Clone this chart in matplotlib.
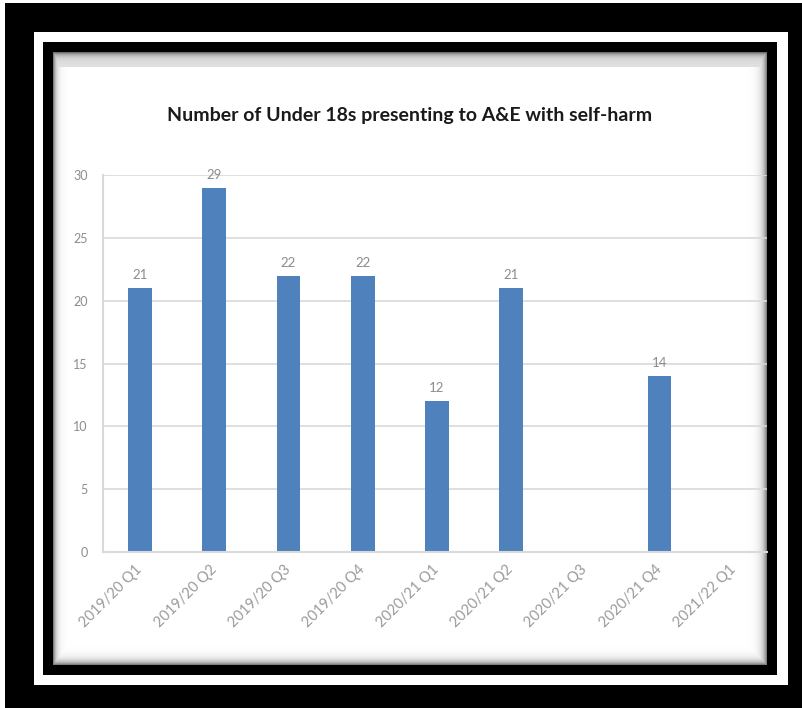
import matplotlib.pyplot as plt
import numpy as np
from matplotlib.patches import Rectangle

plt.rcParams['font.family'] = ['Lato', 'DejaVu Sans']

quarters = ['2019/20 Q1', '2019/20 Q2', '2019/20 Q3', '2019/20 Q4',
            '2020/21 Q1', '2020/21 Q2', '2020/21 Q3', '2020/21 Q4',
            '2021/22 Q1']
# no figure reported for 2020/21 Q3 and 2021/22 Q1
cases = [21, 29, 22, 22, 12, 21, None, 14, None]
title = 'Number of Under 18s presenting to A&E with self-harm'

W, H = 803, 708
fig = plt.figure(figsize=(W / 100, H / 100), dpi=100)


def px_rect(x0, y0, x1, y1, color):
    """Figure-level rectangle given in pixel coords (origin top-left)."""
    fig.patches.append(Rectangle((x0 / W, 1 - y1 / H), (x1 - x0) / W, (y1 - y0) / H,
                                 transform=fig.transFigure, facecolor=color,
                                 edgecolor='none', zorder=0))


# black / white / black frame
px_rect(5, 3, 803, 708, 'black')
px_rect(34, 32, 788, 685, 'white')
px_rect(43, 42, 777, 675, 'black')

# chart panel with soft inner shadow on the edges
cx0, cy0, cx1, cy1 = 53, 52, 767, 665
bg = fig.add_axes([cx0 / W, 1 - cy1 / H, (cx1 - cx0) / W, (cy1 - cy0) / H])
bg.set_zorder(1)
yy, xx = np.mgrid[0:cy1 - cy0, 0:cx1 - cx0].astype(float)
top = 0.45 * np.exp(-yy / 3.0) + 0.12 * (yy < 15)
left = 0.5 * np.exp(-xx / 3.0)
right = 0.5 * np.exp(-(cx1 - cx0 - 1 - xx) / 4.0)
bottom = 0.5 * np.exp(-(cy1 - cy0 - 1 - yy) / 4.0)
dark = np.maximum.reduce([top, left, right, bottom])
bg.imshow(1 - dark, cmap='gray', vmin=0, vmax=1, aspect='auto',
          interpolation='bilinear')
bg.axis('off')

fig.text(410 / W, 1 - 115 / H, title, ha='center', va='center', zorder=5,
         fontsize=14, fontweight='bold', color='#1a1a1a')

ax = fig.add_axes([103 / W, 1 - 552 / H, (767 - 103) / W, (552 - 175) / H])
ax.set_zorder(2)
ax.set_facecolor('none')

x = np.arange(len(quarters))
xs = [i for i, v in zip(x, cases) if v is not None]
vals = [v for v in cases if v is not None]
rects = ax.bar(xs, vals, width=0.32, color='#4f81bd', zorder=2)

for rect in rects:
    ax.annotate('{}'.format(int(rect.get_height())),
                xy=(rect.get_x() + rect.get_width() / 2, rect.get_height()),
                xytext=(0, 5), textcoords='offset points',
                ha='center', va='bottom', fontsize=9.5, color='#8c8c8c')

ax.set_xlim(-0.5, 8.45)
ax.set_ylim(0, 30)
ax.set_yticks(range(0, 31, 5))
ax.set_xticks(x)
ax.set_xticklabels(quarters, rotation=45, ha='right', va='center',
                   rotation_mode='anchor')

ax.yaxis.grid(color='#d9d9d9', linewidth=1.2)
ax.set_axisbelow(True)
for side in ['top', 'right']:
    ax.spines[side].set_visible(False)
for side in ['left', 'bottom']:
    ax.spines[side].set_color('#d9d9d9')
    ax.spines[side].set_linewidth(1.5)

ax.tick_params(axis='y', length=0, pad=11, labelsize=9, labelcolor='#8c8c8c')
ax.tick_params(axis='x', length=0, pad=11, labelsize=10.5, labelcolor='#9a9a9a')

fig.savefig('out.png', dpi=100)
